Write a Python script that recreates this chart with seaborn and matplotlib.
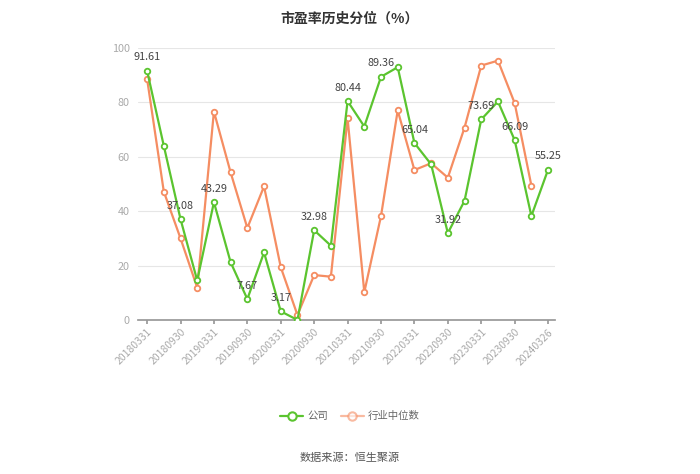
import matplotlib
matplotlib.use("Agg")
import matplotlib.pyplot as plt
import seaborn as sns
import pandas as pd
import numpy as np
from matplotlib.lines import Line2D

dates = ["20180331", "20180630", "20180930", "20181231",
         "20190331", "20190630", "20190930", "20191231",
         "20200331", "20200630", "20200930", "20201231",
         "20210331", "20210630", "20210930", "20211231",
         "20220331", "20220630", "20220930", "20221231",
         "20230331", "20230630", "20230930", "20231231",
         "20240326"]
company = [91.61, 64.0, 37.08, 14.5, 43.29, 21.2, 7.67, 24.8, 3.17, 0.0,
           32.98, 27.3, 80.44, 71.1, 89.36, 92.9, 65.04, 57.2, 31.92, 43.8,
           73.69, 80.3, 66.09, 38.2, 55.25]
industry = [88.6, 47.2, 30.0, 11.9, 76.6, 54.2, 33.8, 49.1, 19.4, 1.8,
            16.5, 15.9, 74.1, 10.2, 38.2, 77.0, 55.1, 57.6, 52.3, 70.7,
            93.5, 95.3, 79.7, 49.4, np.nan]
label_idx = list(range(0, 25, 2))

sns.set_theme(style="white")
plt.rcParams['font.family'] = ['Noto Sans CJK SC', 'DejaVu Sans']

green = "#5BC42F"
orange = "#F58D62"

df = pd.DataFrame({"x": np.arange(len(dates)), "公司": company, "行业中位数": industry})
long = df.melt(id_vars="x", var_name="series", value_name="v").dropna()

fig = plt.figure(figsize=(7, 4.74), dpi=100)
ax = fig.add_axes([0.197, 0.325, 0.596, 0.574])

sns.lineplot(data=long, x="x", y="v", hue="series", palette=[green, orange],
             hue_order=["公司", "行业中位数"], ax=ax, lw=1.6,
             marker="o", markersize=4, markerfacecolor="white",
             markeredgewidth=1.3, legend=False)
for line in ax.lines:
    c = matplotlib.colors.to_hex(line.get_color()).lower()
    line.set_markeredgecolor(line.get_color())
    line.set_zorder(4 if c == green.lower() else 3)

for i in label_idx:
    ax.annotate(f"{company[i]:.2f}", (i, company[i]), xytext=(0, 6),
                textcoords="offset points", ha="center", va="bottom",
                fontsize=7.8, color="#444444", zorder=6)

ax.set_xlim(-0.55, 24.42)
ax.set_ylim(0, 100)
ax.set_yticks([0, 20, 40, 60, 80, 100])
ax.set_xticks(label_idx)
ax.set_xticklabels([dates[i] for i in label_idx], rotation=45, ha="right",
                   rotation_mode="anchor", fontsize=7.5, color="#aaaaaa")
ax.tick_params(axis="y", labelsize=7.8, labelcolor="#aaaaaa", length=0, pad=6)
ax.tick_params(axis="x", length=3, color="#999999", pad=2, bottom=True)
ax.grid(axis="y", color="#e6e6e6", lw=0.8)
ax.set_axisbelow(True)
for s in ["top", "right", "left"]:
    ax.spines[s].set_visible(False)
ax.spines["bottom"].set_color("#999999")
ax.set_xlabel("")
ax.set_ylabel("")

fig.text(0.5, 0.975, "市盈率历史分位（%）", ha="center", va="top",
         fontsize=10, fontweight="bold", color="#333333")

handles = [Line2D([], [], color=green, lw=1.6, marker="o", markersize=6,
                  markerfacecolor="white", markeredgewidth=1.5),
           Line2D([], [], color=orange, lw=1.6, marker="o", markersize=6,
                  markerfacecolor="white", markeredgewidth=1.5, alpha=0.6)]
fig.legend(handles, ["公司", "行业中位数"], loc="center", bbox_to_anchor=(0.5, 0.122),
           ncol=2, frameon=False, fontsize=7.5, handlelength=2.2, columnspacing=1.2,
           handletextpad=0.4, labelcolor="#666666")

fig.text(0.5, 0.035, "数据来源：恒生聚源", ha="center", va="center",
         fontsize=8, color="#555555")

fig.savefig("out.png", dpi=100)
